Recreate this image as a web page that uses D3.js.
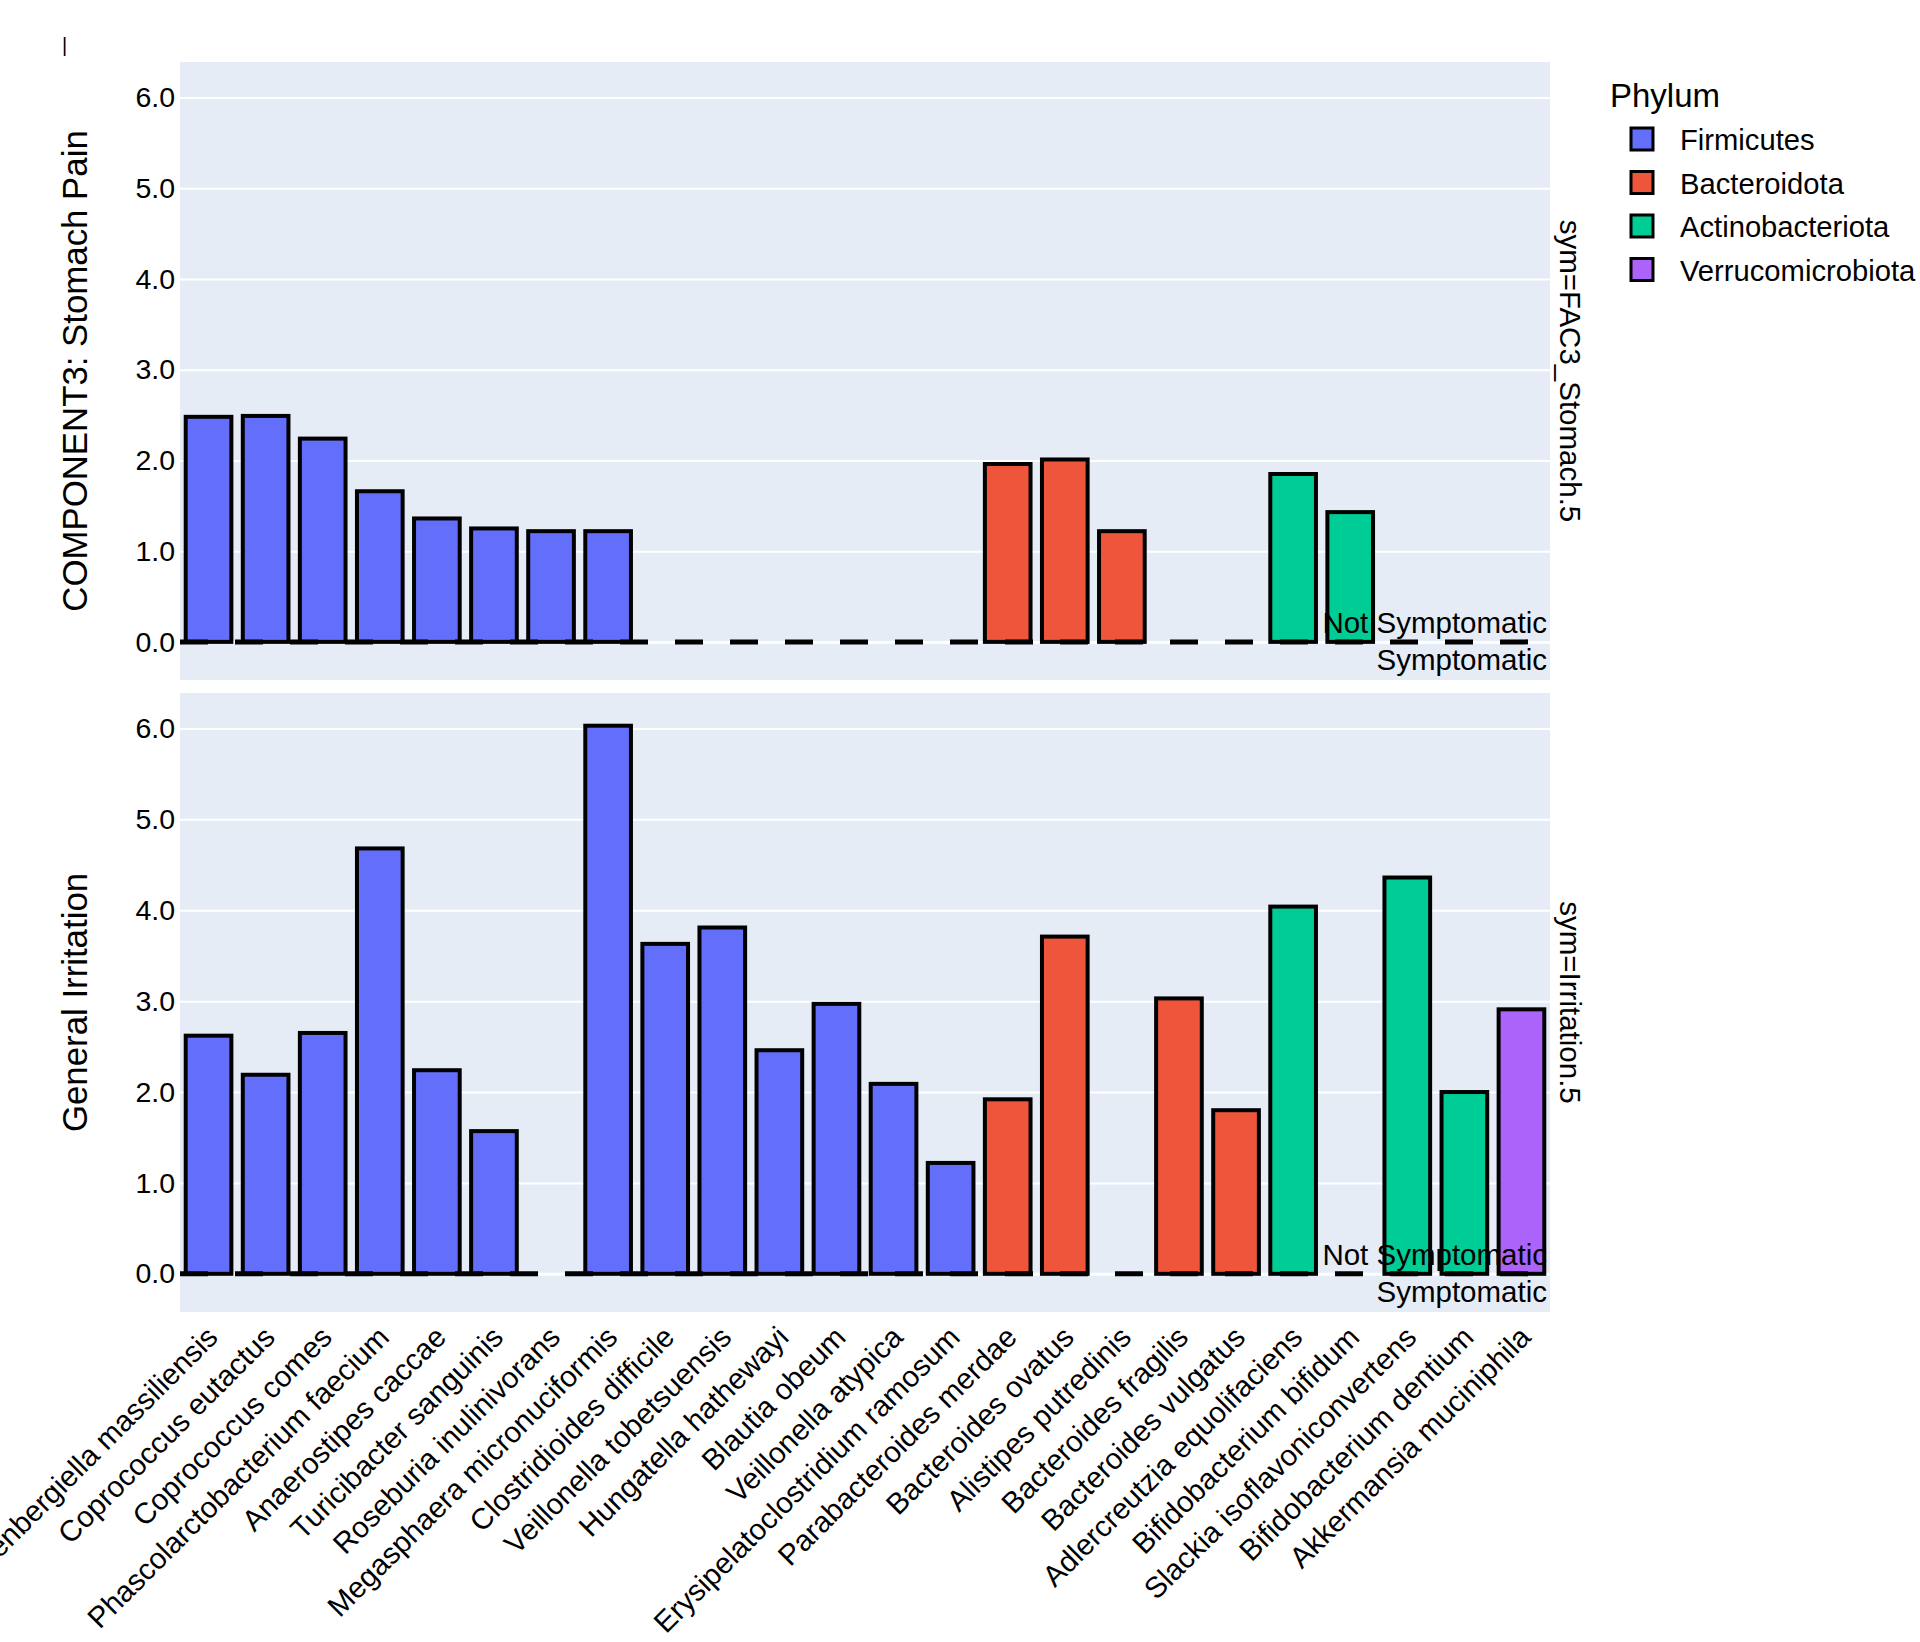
<!DOCTYPE html>
<html>
<head>
<meta charset="utf-8">
<script src="https://cdn.jsdelivr.net/npm/d3@7"></script>
<style>
  body { margin: 0; background: #fff; }
  text { font-family: "Liberation Sans", Arial, sans-serif; fill: #000; }
</style>
</head>
<body>
<div id="canvas"></div>
<script>
// species on the x axis
const categories = [
  "Eisenbergiella massiliensis", "Coprococcus eutactus", "Coprococcus comes",
  "Phascolarctobacterium faecium", "Anaerostipes caccae", "Turicibacter sanguinis",
  "Roseburia inulinivorans", "Megasphaera micronuciformis", "Clostridioides difficile",
  "Veillonella tobetsuensis", "Hungatella hathewayi", "Blautia obeum",
  "Veillonella atypica", "Erysipelatoclostridium ramosum", "Parabacteroides merdae",
  "Bacteroides ovatus", "Alistipes putredinis", "Bacteroides fragilis",
  "Bacteroides vulgatus", "Adlercreutzia equolifaciens", "Bifidobacterium bifidum",
  "Slackia isoflavoniconvertens", "Bifidobacterium dentium", "Akkermansia muciniphila"
];
const phylumOf = [
  "Firmicutes", "Firmicutes", "Firmicutes", "Firmicutes", "Firmicutes", "Firmicutes",
  "Firmicutes", "Firmicutes", "Firmicutes", "Firmicutes", "Firmicutes", "Firmicutes",
  "Firmicutes", "Firmicutes", "Bacteroidota", "Bacteroidota", "Bacteroidota", "Bacteroidota",
  "Bacteroidota", "Actinobacteriota", "Actinobacteriota", "Actinobacteriota", "Actinobacteriota",
  "Verrucomicrobiota"
];
// null = no bar
const stomachPain = [
  2.48, 2.49, 2.24, 1.66, 1.36, 1.25, 1.22, 1.22, null, null, null, null,
  null, null, 1.96, 2.01, 1.22, null, null, 1.85, 1.43, null, null, null
];
const irritation = [
  2.62, 2.19, 2.65, 4.68, 2.24, 1.57, null, 6.03, 3.63, 3.81, 2.46, 2.97,
  2.09, 1.22, 1.92, 3.71, null, 3.03, 1.80, 4.04, null, 4.36, 2.00, 2.91
];
const phyla = ["Firmicutes", "Bacteroidota", "Actinobacteriota", "Verrucomicrobiota"];
const phylaColors = ["#636efa", "#EF553B", "#00cc96", "#ab63fa"];
const yTicks = [0, 1, 2, 3, 4, 5, 6];

const width = 1920;
const height = 1642;
const left = 180, right = 1550;

const panels = [
  { top: 62, bottom: 680, values: stomachPain,
    title: "COMPONENT3: Stomach Pain", facet: "sym=FAC3_Stomach.5" },
  { top: 693, bottom: 1312, values: irritation,
    title: "General Irritation", facet: "sym=Irritation.5" }
];

const color = d3.scaleOrdinal().domain(phyla).range(phylaColors);

const svg = d3.select("#canvas").append("svg")
  .attr("width", width).attr("height", height);

const x = d3.scaleBand()
  .domain(categories)
  .range([left, right])
  .paddingInner(0.2)
  .paddingOuter(0.1);

// stray mark at the top left
svg.append("text").attr("x", 62).attr("y", 52)
  .style("font-size", "20px").text("|");

panels.forEach((p, pi) => {
  const y = d3.scaleLinear().domain([-0.42, 6.39]).range([p.bottom, p.top]);

  svg.append("rect")
    .attr("x", left).attr("y", p.top)
    .attr("width", right - left).attr("height", p.bottom - p.top)
    .attr("fill", "#E5ECF6");

  const ax = svg.append("g")
    .attr("transform", `translate(${left},0)`)
    .call(d3.axisLeft(y).tickValues(yTicks).tickFormat(d3.format(".1f"))
      .tickSize(-(right - left)).tickPadding(5));
  ax.select(".domain").remove();
  ax.selectAll("line").attr("stroke", "#fff")
    .attr("stroke-width", d => d === 0 ? 3 : 2);
  ax.selectAll("text").style("font-size", "28.5px").attr("fill", "#000");

  const data = categories.map((c, i) => ({ c, v: p.values[i], ph: phylumOf[i] }))
    .filter(d => d.v !== null);

  svg.append("g").selectAll("rect").data(data).enter()
    .append("rect")
    .attr("x", d => x(d.c))
    .attr("y", d => y(d.v))
    .attr("width", x.bandwidth())
    .attr("height", d => y(0) - y(d.v))
    .attr("fill", d => color(d.ph))
    .attr("stroke", "#000")
    .attr("stroke-width", 4);

  // threshold line
  svg.append("line")
    .attr("x1", left).attr("x2", right)
    .attr("y1", y(0)).attr("y2", y(0))
    .attr("stroke", "#000").attr("stroke-width", 5)
    .attr("stroke-dasharray", "28,27");

  svg.append("text")
    .attr("x", right - 3).attr("y", y(0) - 9)
    .attr("text-anchor", "end").style("font-size", "29.5px")
    .text("Not Symptomatic");
  svg.append("text")
    .attr("x", right - 3).attr("y", y(0) + 28)
    .attr("text-anchor", "end").style("font-size", "29.5px")
    .text("Symptomatic");

  const cy = (p.top + p.bottom) / 2;
  svg.append("text")
    .attr("transform", `translate(87,${cy}) rotate(-90)`)
    .attr("text-anchor", "middle").style("font-size", "34.8px")
    .text(p.title);
  svg.append("text")
    .attr("transform", `translate(1560,${cy}) rotate(90)`)
    .attr("text-anchor", "middle").style("font-size", "29.5px")
    .text(p.facet);

  if (pi === panels.length - 1) {
    const xa = svg.append("g")
      .attr("transform", `translate(0,${p.bottom})`)
      .call(d3.axisBottom(x).tickSize(0));
    xa.select(".domain").remove();
    xa.selectAll("text")
      .attr("y", 0).attr("dy", null)
      .attr("text-anchor", "end")
      .attr("transform", "translate(11,27) rotate(-45)")
      .attr("fill", "#000")
      .style("font-size", "29.5px");
  }
});

// legend
const legend = svg.append("g").attr("transform", "translate(1610,0)");
legend.append("text").attr("x", 0).attr("y", 107)
  .style("font-size", "33px").text("Phylum");
const items = legend.selectAll("g.item").data(phyla).enter()
  .append("g").attr("class", "item")
  .attr("transform", (d, i) => `translate(0,${150 + i * 43.5})`);
items.append("rect")
  .attr("x", 21).attr("y", -22).attr("width", 22).attr("height", 22)
  .attr("fill", d => color(d)).attr("stroke", "#000").attr("stroke-width", 3);
items.append("text").attr("x", 70).attr("y", 0)
  .style("font-size", "29.2px").text(d => d);
</script>
</body>
</html>
